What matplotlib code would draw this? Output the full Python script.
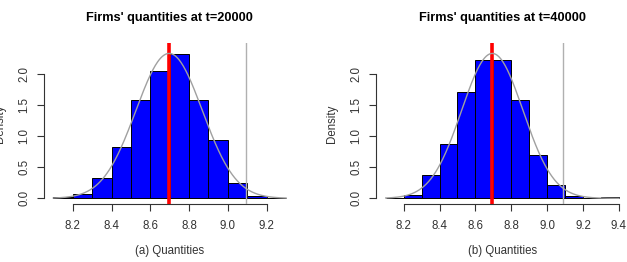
import numpy as np
import matplotlib
matplotlib.use("Agg")
from matplotlib import pyplot as plt

plt.rcParams['font.family'] = ['Liberation Sans', 'DejaVu Sans']

# bin edges and densities
edges_a = [8.1, 8.2, 8.3, 8.4, 8.5, 8.6, 8.7, 8.8, 8.9, 9.0, 9.1, 9.2, 9.3]
dens_a = [0.02, 0.07, 0.32, 0.83, 1.59, 2.05, 2.33, 1.59, 0.94, 0.24, 0.04, 0.01]
edges_b = [8.1, 8.2, 8.3, 8.4, 8.5, 8.6, 8.7, 8.8, 8.9, 9.0, 9.1, 9.2, 9.3, 9.4]
dens_b = [0.005, 0.05, 0.375, 0.88, 1.72, 2.22, 2.22, 1.59, 0.69, 0.21, 0.03, 0.01, 0.02]

mean_a, sd_a = 8.697, 0.171
mean_b, sd_b = 8.694, 0.171
equil_a, equil_b = 8.697, 8.694
gray_a, gray_b = 9.093, 9.088

titles = ["Firms' quantities at t=20000", "Firms' quantities at t=40000"]
xlabels = ["(a) Quantities", "(b) Quantities"]
xticks_a = [8.2, 8.4, 8.6, 8.8, 9.0, 9.2]
xticks_b = [8.2, 8.4, 8.6, 8.8, 9.0, 9.2, 9.4]
yticks = [0.0, 0.5, 1.0, 1.5, 2.0]

W, H = 627, 262
fig = plt.figure(figsize=(W / 100, H / 100), dpi=100)

panels = [
    (edges_a, dens_a, mean_a, sd_a, equil_a, gray_a, xticks_a, (44.0, 295.4)),
    (edges_b, dens_b, mean_b, sd_b, equil_b, gray_b, xticks_b, (376.4, 628.3)),
]

for i, (edges, dens, mu, sd, eq, gr, xt, (x0, x1)) in enumerate(panels):
    top, bot = 43.3, 204.3
    ax = fig.add_axes([x0 / W, 1 - bot / H, (x1 - x0) / W, (bot - top) / H])
    lo, hi = edges[0], edges[-1]
    ext = (hi - lo) * 0.04
    ax.set_xlim(lo - ext, hi + ext)
    ax.set_ylim(-0.096, 2.496)

    ax.bar(edges[:-1], dens, width=np.diff(edges), align='edge',
           color='#0000ff', edgecolor='black', linewidth=0.7, zorder=2)
    ax.axvline(eq, color='#ff0000', linewidth=2.6, zorder=3)
    xs = np.linspace(lo, hi, 300)
    ys = np.exp(-0.5 * ((xs - mu) / sd) ** 2) / (sd * np.sqrt(2 * np.pi))
    ax.plot(xs, ys, color='#a0a0a0', linewidth=1.0, zorder=4)
    ax.axvline(gr, color='#b0b0b0', linewidth=1.0, zorder=4)

    for s in ['top', 'right']:
        ax.spines[s].set_visible(False)
    ax.spines['left'].set_bounds(0, 2)
    ax.spines['bottom'].set_bounds(xt[0], xt[-1])
    for s in ['left', 'bottom']:
        ax.spines[s].set_linewidth(0.8)
        ax.spines[s].set_color('#333333')
    ax.set_xticks(xt)
    ax.set_xticklabels(['%.1f' % v for v in xt])
    ax.set_yticks(yticks)
    ax.set_yticklabels(['%.1f' % v for v in yticks], rotation=90, va='center')
    ax.tick_params(length=5, width=0.8, color='#333333', labelsize=8.3,
                   labelcolor='#333333', pad=5)
    ax.tick_params(axis='x', pad=6)
    ax.set_title(titles[i], fontsize=9.2, fontweight='bold', pad=16)
    ax.set_xlabel(xlabels[i], fontsize=8.3, labelpad=10, color='#333333')
    ax.set_ylabel('Density', fontsize=8.3, labelpad=9, color='#333333')

fig.savefig('out.png', dpi=100)
